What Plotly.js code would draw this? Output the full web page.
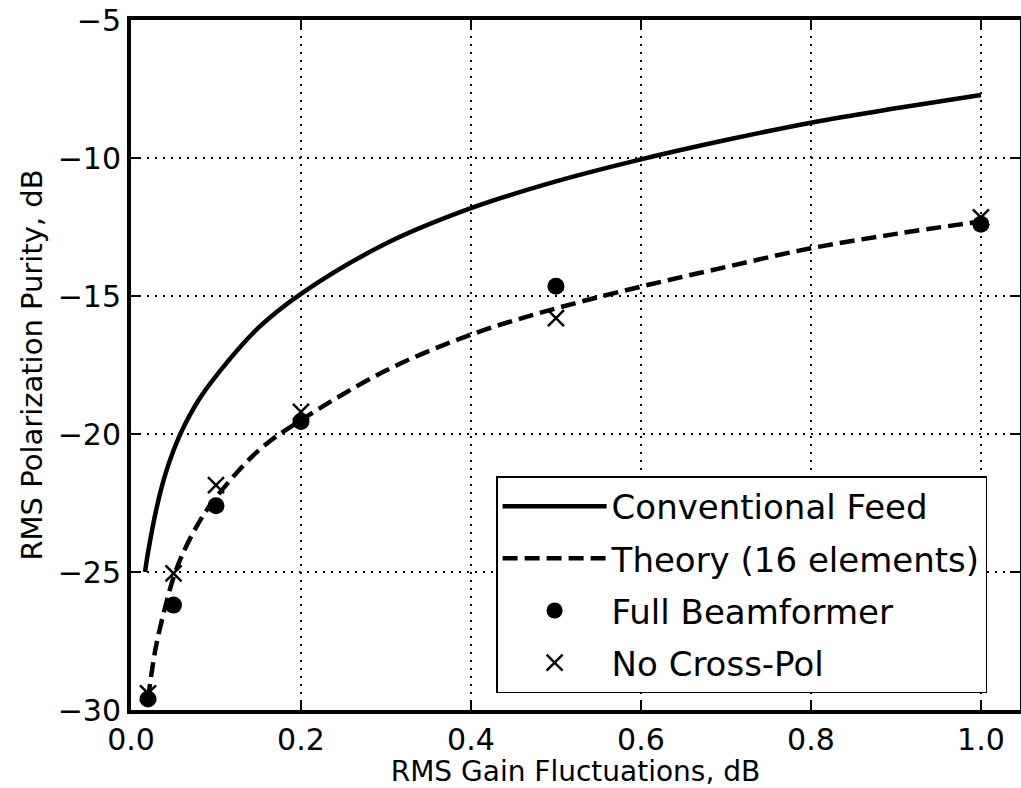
<!DOCTYPE html>
<html>
<head>
<meta charset="utf-8">
<script src="https://cdn.plot.ly/plotly-3.0.1.min.js"></script>
<style>html,body{margin:0;padding:0;background:#fff;}#chart{width:1021px;height:788px;}</style>
</head>
<body>
<div id="chart"></div>
<script>
// Conventional Feed curve
const convX = [0.0165, 0.02, 0.03, 0.04, 0.05, 0.06, 0.08, 0.1, 0.15, 0.2, 0.3, 0.4, 0.5, 0.6, 0.7, 0.8, 0.9, 1.0];
const convY = [-25.0, -24.3, -22.7, -21.5, -20.6, -19.87, -18.75, -17.9, -16.15, -14.92, -13.1, -11.82, -10.85, -10.05, -9.35, -8.72, -8.2, -7.72];
// Theory (16 elements) curve
const theoX = [0.02, 0.025, 0.03, 0.04, 0.05, 0.06, 0.08, 0.1, 0.15, 0.2, 0.3, 0.4, 0.5, 0.6, 0.7, 0.8, 0.9, 1.0];
const theoY = [-29.6, -28.5, -27.6, -26.3, -25.2, -24.4, -23.2, -22.3, -20.6, -19.5, -17.7, -16.4, -15.45, -14.66, -13.95, -13.27, -12.75, -12.3];
// Simulation points
const simX = [0.02, 0.05, 0.1, 0.2, 0.5, 1.0];
const fullBF = [-29.6, -26.2, -22.6, -19.55, -14.65, -12.4];
const noXpol = [-29.4, -25.05, -21.85, -19.2, -15.8, -12.15];
const xTicks = [0.0, 0.2, 0.4, 0.6, 0.8, 1.0];
const yTicks = [-30, -25, -20, -15, -10, -5];

const FONT = 'DejaVu Sans, sans-serif';

const traces = [
  {x: convX, y: convY, mode: 'lines', name: 'Conventional Feed', legendgroup: 'a', legendrank: 1,
   line: {color: '#000', width: 4.5, shape: 'spline', smoothing: 1}},
  {x: theoX, y: theoY, mode: 'lines', name: 'Theory (16 elements)', legendgroup: 'b', legendrank: 2,
   line: {color: '#000', width: 4.5, dash: '15px,7px', shape: 'spline', smoothing: 1}},
  {x: simX, y: noXpol, mode: 'markers', name: 'No Cross-Pol', legendgroup: 'd', legendrank: 4,
   marker: {symbol: 'x-thin-open', size: 16, color: '#000', line: {color: '#000', width: 2.5}}},
  {x: simX, y: fullBF, mode: 'markers', name: 'Full Beamformer', legendgroup: 'c', legendrank: 3,
   marker: {symbol: 'circle', size: 17, color: '#000'}}
];

const axisCommon = {
  showline: true, linecolor: '#000', linewidth: 4, mirror: 'ticks',
  ticks: 'inside', ticklen: 10, tickwidth: 2, tickcolor: '#000',
  showgrid: true, gridcolor: '#000', gridwidth: 2, griddash: '2px,6px',
  zeroline: false, tickfont: {family: FONT, size: 30, color: '#000'}
};

const layout = {
  width: 1021, height: 788,
  margin: {l: 131, r: 1, t: 20, b: 78},
  paper_bgcolor: '#fff', plot_bgcolor: '#fff',
  font: {family: FONT, color: '#000'},
  showlegend: true,
  xaxis: Object.assign({}, axisCommon, {
    range: [0, 1.046], tickvals: xTicks, tickformat: '.1f',
    title: {text: 'RMS Gain Fluctuations, dB', font: {family: FONT, size: 28, color: '#000'}, standoff: 6}
  }),
  yaxis: Object.assign({}, axisCommon, {
    range: [-30, -5], tickvals: yTicks,
    title: {text: 'RMS Polarization Purity, dB', font: {family: FONT, size: 29, color: '#000'}, standoff: 8}
  }),
  legend: {
    x: 0.963, y: 0.0246, xanchor: 'right', yanchor: 'bottom',
    bgcolor: '#fff', bordercolor: '#000', borderwidth: 1.5,
    font: {family: FONT, size: 34, color: '#000'},
    tracegroupgap: 5, itemwidth: 104
  }
};

Plotly.newPlot('chart', traces, layout, {staticPlot: true, displayModeBar: false});
</script>
</body>
</html>
